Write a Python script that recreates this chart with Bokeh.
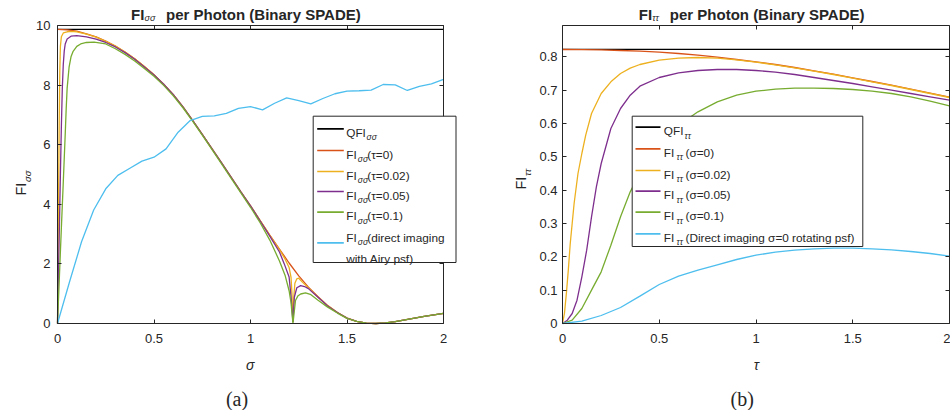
from bokeh.plotting import figure
from bokeh.models import Range1d, FixedTicker, LinearAxis, Label, BoxAnnotation, Arrow
from bokeh.layouts import row
from bokeh.embed import file_html
from bokeh.resources import INLINE

# ---------------- data: panel (a) FI_sigma-sigma vs sigma ----------------
qfi_ss = 9.8696
sig_red = [0, 0.05, 0.1, 0.15, 0.2, 0.25, 0.3, 0.35, 0.4, 0.45, 0.5, 0.55, 0.6, 0.65, 0.7,
           0.75, 0.8, 0.85, 0.9, 0.95, 1.0, 1.05, 1.1, 1.15, 1.2, 1.25, 1.3, 1.35, 1.4, 1.45,
           1.5, 1.55, 1.6, 1.65, 1.7, 1.75, 1.8, 1.85, 1.9, 1.95, 2.0]
fi_red = [9.87, 9.85, 9.81, 9.72, 9.62, 9.48, 9.31, 9.11, 8.88, 8.62, 8.35, 8.03, 7.68, 7.27, 6.82,
          6.35, 5.87, 5.39, 4.90, 4.42, 3.95, 3.45, 2.97, 2.50, 2.03, 1.60, 1.22, 0.90, 0.60, 0.37,
          0.18, 0.07, 0.01, 0.0, 0.02, 0.06, 0.12, 0.18, 0.24, 0.29, 0.34]

sig_yel = [0, 0.003, 0.006, 0.009, 0.012, 0.015, 0.02, 0.03, 0.05, 0.07, 0.1, 0.15, 0.2, 0.25,
           0.3, 0.35, 0.4, 0.45, 0.5, 0.55, 0.6, 0.65, 0.7, 0.75, 0.8, 0.85, 0.9, 0.95, 1.0, 1.05,
           1.1, 1.15, 1.18, 1.2, 1.21, 1.215, 1.22, 1.225, 1.23, 1.24, 1.25, 1.27, 1.3, 1.35, 1.4,
           1.45, 1.5, 1.55, 1.6, 1.65, 1.7, 1.75, 1.8, 1.85, 1.9, 1.95, 2.0]
fi_yel = [0, 2.3, 4.6, 6.8, 8.5, 9.3, 9.62, 9.75, 9.79, 9.8, 9.79, 9.71, 9.61, 9.47,
          9.31, 9.11, 8.88, 8.62, 8.35, 8.03, 7.68, 7.27, 6.82, 6.35, 5.87, 5.39, 4.90, 4.42, 3.95, 3.45,
          2.96, 2.48, 2.15, 1.88, 1.55, 1.0, 0.05, 0.95, 1.35, 1.5, 1.52, 1.38, 1.2, 0.89, 0.6,
          0.37, 0.18, 0.07, 0.01, 0.0, 0.02, 0.06, 0.12, 0.18, 0.24, 0.29, 0.34]

sig_pur = [0, 0.005, 0.01, 0.015, 0.02, 0.025, 0.03, 0.035, 0.04, 0.05, 0.07, 0.1, 0.15, 0.2,
           0.25, 0.3, 0.35, 0.4, 0.45, 0.5, 0.55, 0.6, 0.65, 0.7, 0.75, 0.8, 0.85, 0.9, 0.95, 1.0,
           1.05, 1.1, 1.15, 1.175, 1.2, 1.21, 1.22, 1.227, 1.24, 1.26, 1.28, 1.3, 1.35, 1.4, 1.45,
           1.5, 1.55, 1.6, 1.65, 1.7, 1.75, 1.8, 1.85, 1.9, 1.95, 2.0]
fi_pur = [0, 1.7, 3.3, 5.0, 6.6, 7.9, 8.7, 9.15, 9.38, 9.55, 9.64, 9.66, 9.62, 9.54,
          9.43, 9.28, 9.09, 8.87, 8.61, 8.34, 8.03, 7.68, 7.27, 6.82, 6.35, 5.87, 5.39, 4.90, 4.42, 3.95,
          3.44, 2.93, 2.40, 2.0, 1.56, 0.9, 0.05, 0.88, 1.2, 1.27, 1.24, 1.17, 0.88, 0.59, 0.37,
          0.18, 0.07, 0.01, 0.0, 0.02, 0.06, 0.12, 0.18, 0.24, 0.29, 0.34]

sig_grn = [0, 0.01, 0.02, 0.03, 0.04, 0.045, 0.05, 0.06, 0.07, 0.08, 0.1, 0.12, 0.15, 0.19,
           0.25, 0.3, 0.35, 0.4, 0.45, 0.5, 0.55, 0.6, 0.65, 0.7, 0.75, 0.8, 0.85, 0.9, 0.95, 1.0,
           1.05, 1.1, 1.15, 1.18, 1.2, 1.21, 1.22, 1.225, 1.233, 1.245, 1.26, 1.285, 1.31, 1.35, 1.4,
           1.45, 1.5, 1.55, 1.6, 1.65, 1.7, 1.75, 1.8, 1.85, 1.9, 1.95, 2.0]
fi_grn = [0, 1.6, 3.2, 4.75, 6.35, 7.2, 7.9, 8.6, 8.95, 9.12, 9.3, 9.38, 9.43, 9.44,
          9.38, 9.22, 9.03, 8.81, 8.56, 8.3, 7.99, 7.64, 7.24, 6.79, 6.32, 5.84, 5.36, 4.87, 4.38, 3.9,
          3.38, 2.8, 2.1, 1.6, 1.1, 0.7, 0.0, 0.3, 0.77, 0.92, 0.99, 1.03, 0.98, 0.78, 0.55,
          0.35, 0.17, 0.07, 0.01, 0.0, 0.02, 0.06, 0.12, 0.18, 0.24, 0.29, 0.34]

sig_dir = [0, 0.0625, 0.125, 0.1875, 0.25, 0.3125, 0.375, 0.4375, 0.5, 0.5625, 0.625, 0.6875,
           0.75, 0.8125, 0.875, 0.9375, 1.0, 1.0625, 1.125, 1.1875, 1.25, 1.3125, 1.375, 1.4375,
           1.5, 1.5625, 1.625, 1.6875, 1.75, 1.8125, 1.875, 1.9375, 2.0]
fi_dir = [0, 1.4, 2.75, 3.81, 4.52, 4.97, 5.21, 5.45, 5.58, 5.86, 6.42, 6.81,
          6.95, 6.97, 7.05, 7.22, 7.28, 7.17, 7.39, 7.57, 7.48, 7.37, 7.55, 7.71,
          7.80, 7.81, 7.83, 8.02, 8.01, 7.82, 7.96, 8.04, 8.19]

# ---------------- data: panel (b) FI_tau-tau vs tau ----------------
qfi_tt = 0.8225
tau_red = [0, 0.1, 0.2, 0.3, 0.4, 0.5, 0.6, 0.7, 0.8, 0.9, 1.0, 1.1, 1.2, 1.3, 1.4, 1.5,
           1.6, 1.7, 1.8, 1.9, 2.0]
ft_red = [0.822, 0.8217, 0.8207, 0.819, 0.817, 0.814, 0.810, 0.805, 0.799, 0.792, 0.785,
          0.777, 0.768, 0.758, 0.748, 0.737, 0.726, 0.715, 0.703, 0.691, 0.679]

tau_yel = [0, 0.01, 0.02, 0.03, 0.04, 0.05, 0.06, 0.08, 0.1, 0.12, 0.15, 0.2, 0.25, 0.3, 0.35,
           0.4, 0.5, 0.6, 0.7, 0.8, 0.9, 1.0, 1.1, 1.2, 1.3, 1.4, 1.5, 1.6, 1.7, 1.8, 1.9, 2.0]
ft_yel = [0, 0.03, 0.09, 0.16, 0.24, 0.30, 0.36, 0.45, 0.51, 0.565, 0.63, 0.69, 0.725, 0.75, 0.766,
          0.777, 0.79, 0.796, 0.798, 0.796, 0.791, 0.784, 0.776, 0.767, 0.757, 0.747, 0.736,
          0.725, 0.714, 0.702, 0.690, 0.678]

tau_pur = [0, 0.025, 0.05, 0.075, 0.1, 0.125, 0.15, 0.175, 0.2, 0.25, 0.3, 0.35, 0.4, 0.5,
           0.6, 0.7, 0.8, 0.9, 1.0, 1.1, 1.2, 1.3, 1.4, 1.5, 1.6, 1.7, 1.8, 1.9, 2.0]
ft_pur = [0, 0.01, 0.03, 0.07, 0.14, 0.22, 0.32, 0.41, 0.48, 0.585, 0.645, 0.685, 0.712, 0.738,
          0.752, 0.759, 0.762, 0.762, 0.759, 0.754, 0.747, 0.738, 0.729, 0.72, 0.71, 0.70,
          0.69, 0.68, 0.67]

tau_grn = [0, 0.05, 0.1, 0.15, 0.2, 0.25, 0.3, 0.35, 0.4, 0.45, 0.5, 0.55, 0.6, 0.65, 0.7,
           0.8, 0.9, 1.0, 1.1, 1.2, 1.3, 1.4, 1.5, 1.6, 1.7, 1.8, 1.9, 2.0]
ft_grn = [0, 0.01, 0.045, 0.1, 0.155, 0.235, 0.32, 0.395, 0.45, 0.5, 0.54, 0.575, 0.597, 0.615,
          0.635, 0.665, 0.685, 0.697, 0.703, 0.706, 0.706, 0.705, 0.702, 0.697, 0.69, 0.68,
          0.667, 0.653]

tau_dir = [0, 0.1, 0.2, 0.3, 0.4, 0.5, 0.6, 0.7, 0.8, 0.9, 1.0, 1.1, 1.2, 1.3, 1.4, 1.5,
           1.6, 1.7, 1.8, 1.9, 2.0]
ft_dir = [0, 0.007, 0.024, 0.048, 0.082, 0.117, 0.142, 0.16, 0.176, 0.192, 0.205, 0.214,
          0.22, 0.224, 0.226, 0.226, 0.224, 0.221, 0.216, 0.21, 0.202]

# ticks and axis limits
x_ticks = [0, 0.5, 1, 1.5, 2]
x_tick_labels = ["0", "0.5", "1", "1.5", "2"]
ya_ticks = [0, 2, 4, 6, 8, 10]
ya_tick_labels = ["0", "2", "4", "6", "8", "10"]
yb_ticks = [0, 0.1, 0.2, 0.3, 0.4, 0.5, 0.6, 0.7, 0.8]
yb_tick_labels = ["0", "0.1", "0.2", "0.3", "0.4", "0.5", "0.6", "0.7", "0.8"]
x_lim = (0, 2)
ya_lim = (0, 10)
yb_lim = (0, 0.894)

# ---------------- styling / layout ----------------
SANS = "Liberation Sans"
SERIF = "Liberation Serif"
AX = "#262626"
C_Q = "#000000"
C1 = "#D95319"
C2 = "#EDB120"
C3 = "#7E2F8E"
C4 = "#77AC30"
C5 = "#4DBEEE"
LW = 1.3
LEG = 11.8              # legend font size (px)
H = 410                 # canvas height
AXES_TOP, AXES_BOT = 25, 323   # pixel rows of the axes box


def style_axis(ax, ticks, labels, show, standoff):
    ax.ticker = FixedTicker(ticks=ticks)
    ax.major_label_overrides = dict(zip(ticks, labels))
    ax.axis_line_color = AX
    ax.axis_line_width = 1
    ax.major_tick_line_color = AX
    ax.major_tick_line_width = 1
    ax.major_tick_in = 4
    ax.major_tick_out = 0
    ax.minor_tick_line_color = None
    ax.major_label_text_font = SANS
    ax.major_label_text_font_size = "13px"
    ax.major_label_standoff = standoff
    ax.major_label_text_color = AX if show else None


def make_fig(width, box_left, box_right, ylim, yticks, ylabels, ystand):
    # the frame covers the whole canvas; ranges are chosen so that the data
    # limits land on the pixel box [box_left, box_right] x [AXES_TOP, AXES_BOT]
    xs = (x_lim[1] - x_lim[0]) / (box_right - box_left)
    ys = (ylim[1] - ylim[0]) / (AXES_BOT - AXES_TOP)
    xr = Range1d(x_lim[0] - box_left * xs, x_lim[1] + (width - box_right) * xs)
    yr = Range1d(ylim[0] - (H - AXES_BOT) * ys, ylim[1] + AXES_TOP * ys)
    p = figure(width=width, height=H, x_range=xr, y_range=yr,
               x_axis_type=None, y_axis_type=None,
               output_backend="svg", toolbar_location=None,
               min_border=0, min_border_left=0, min_border_right=0,
               min_border_top=0, min_border_bottom=0,
               background_fill_color="white", border_fill_color="white",
               outline_line_color=None)
    p.xgrid.visible = False
    p.ygrid.visible = False
    bottom = LinearAxis(fixed_location=ylim[0], bounds=x_lim)
    left = LinearAxis(fixed_location=x_lim[0], bounds=ylim)
    top = LinearAxis(fixed_location=ylim[1], bounds=x_lim)
    right = LinearAxis(fixed_location=x_lim[1], bounds=ylim)
    style_axis(bottom, x_ticks, x_tick_labels, True, 10)
    style_axis(left, yticks, ylabels, True, ystand)
    style_axis(top, x_ticks, x_tick_labels, False, 0)
    style_axis(right, yticks, ylabels, False, 0)
    p.add_layout(bottom, "below")
    p.add_layout(left, "left")
    p.add_layout(top, "above")
    p.add_layout(right, "right")
    return p


def txt(p, ox, x, y, s, size, style="normal", font=SANS, align="left", angle=0, color=AX):
    p.add_layout(Label(x=x - ox, y=H - y, x_units="screen", y_units="screen",
                       text=s, text_font=font, text_font_size=f"{size}px",
                       text_font_style=style, text_align=align, text_baseline="alphabetic",
                       angle=angle, angle_units="deg", text_color=color))


def box(p, ox, x0, x1, y0, y1):
    p.add_layout(BoxAnnotation(left=x0 - ox, right=x1 - ox, top=H - y0, bottom=H - y1,
                               left_units="screen", right_units="screen",
                               top_units="screen", bottom_units="screen",
                               fill_color="white", fill_alpha=1.0, line_color=AX,
                               line_width=1, line_alpha=1.0, level="annotation"))


def sample(p, ox, x0, x1, y, color):
    p.add_layout(Arrow(end=None, x_start=x0 - ox, y_start=H - y,
                       x_end=x1 - ox, y_end=H - y,
                       start_units="screen", end_units="screen",
                       line_color=color, line_width=1.7))


# ---------------- panel (a) ----------------
WA = 503
pa = make_fig(WA, 57, 443, ya_lim, ya_ticks, ya_tick_labels, 7)
oa = 0
pa.line(list(x_lim), [qfi_ss, qfi_ss], line_color=C_Q, line_width=LW)
pa.line(sig_red, fi_red, line_color=C1, line_width=LW)
pa.line(sig_yel, fi_yel, line_color=C2, line_width=LW)
pa.line(sig_pur, fi_pur, line_color=C3, line_width=LW)
pa.line(sig_grn, fi_grn, line_color=C4, line_width=LW)
pa.line(sig_dir, fi_dir, line_color=C5, line_width=LW)

# title
txt(pa, oa, 130.5, 13.5, "FI", 15, "bold")
txt(pa, oa, 144, 17.5, "σσ", 9, "italic")
txt(pa, oa, 165.5, 13.5, "per Photon (Binary SPADE)", 15, "bold")
# y label
txt(pa, oa, 20, 195, "FI", 14.5, angle=90)
txt(pa, oa, 26.5, 181.5, "σσ", 9.5, "italic", angle=90)
# x label and caption
txt(pa, oa, 249.7, 364.5, "σ", 14, "italic", align="center")
txt(pa, oa, 236.5, 398.3, "(a)", 20, font=SERIF, align="center")

# legend (a)
box(pa, oa, 312.7, 455.5, 115.7, 262)
la_rows = [128.3, 150, 171, 191, 211.7]
la_cols = [C_Q, C1, C2, C3, C4]
la_tail = ["", "(τ=0)", "(τ=0.02)", "(τ=0.05)", "(τ=0.1)"]
for i, (yy, cc, tail) in enumerate(zip(la_rows, la_cols, la_tail)):
    sample(pa, oa, 316.7, 343.3, yy, cc)
    if i == 0:
        txt(pa, oa, 345.7, yy + 4, "QFI", LEG)
        txt(pa, oa, 366, yy + 8.5, "σσ", 8.5, "italic")
    else:
        txt(pa, oa, 345.7, yy + 4, "FI", LEG)
        txt(pa, oa, 357.3, yy + 8.5, "σσ", 8.5, "italic")
        txt(pa, oa, 366.7, yy + 4, tail, LEG)
sample(pa, oa, 316.7, 343.3, 242.3, C5)
txt(pa, oa, 345.7, 237, "FI", LEG)
txt(pa, oa, 357.3, 241.5, "σσ", 8.5, "italic")
txt(pa, oa, 366.7, 237, "(direct imaging", LEG)
txt(pa, oa, 345.7, 258.3, "with Airy psf)", LEG)

# ---------------- panel (b) ----------------
WB = 447
ob = WA
pb = make_fig(WB, 562 - ob, 949 - ob, yb_lim, yb_ticks, yb_tick_labels, 5)
pb.line(list(x_lim), [qfi_tt, qfi_tt], line_color=C_Q, line_width=LW)
pb.line(tau_red, ft_red, line_color=C1, line_width=LW)
pb.line(tau_yel, ft_yel, line_color=C2, line_width=LW)
pb.line(tau_pur, ft_pur, line_color=C3, line_width=LW)
pb.line(tau_grn, ft_grn, line_color=C4, line_width=LW)
pb.line(tau_dir, ft_dir, line_color=C5, line_width=LW)

txt(pb, ob, 638.3, 13.5, "FI", 15, "bold")
txt(pb, ob, 651.7, 17.5, "ττ", 9, "italic")
txt(pb, ob, 669.3, 13.5, "per Photon (Binary SPADE)", 15, "bold")
txt(pb, ob, 520.5, 189, "FI", 14.5, angle=90)
txt(pb, ob, 527, 175.5, "ττ", 9.5, "italic", angle=90)
txt(pb, ob, 755.8, 364.5, "τ", 14, "italic", align="center")
txt(pb, ob, 741.7, 398.3, "(b)", 20, font=SERIF, align="center")

box(pb, ob, 631.7, 862.3, 115.7, 246)
lb_rows = [126.7, 148.3, 170, 190.7, 211.7, 233.3]
lb_cols = [C_Q, C1, C2, C3, C4, C5]
lb_tail = ["", "(σ=0)", "(σ=0.02)", "(σ=0.05)", "(σ=0.1)", "(Direct imaging  σ=0 rotating psf)"]
for i, (yy, cc, tail) in enumerate(zip(lb_rows, lb_cols, lb_tail)):
    sample(pb, ob, 635, 660, yy, cc)
    if i == 0:
        txt(pb, ob, 663.3, yy + 4, "QFI", LEG)
        txt(pb, ob, 684, yy + 8.5, "ττ", 8.5, "italic")
    else:
        txt(pb, ob, 663.3, yy + 4, "FI", LEG)
        txt(pb, ob, 676, yy + 8.5, "ττ", 8.5, "italic")
        txt(pb, ob, 685, yy + 4, tail, LEG)

layout = row(pa, pb)
open("out.html", "w").write(file_html(layout, INLINE))
